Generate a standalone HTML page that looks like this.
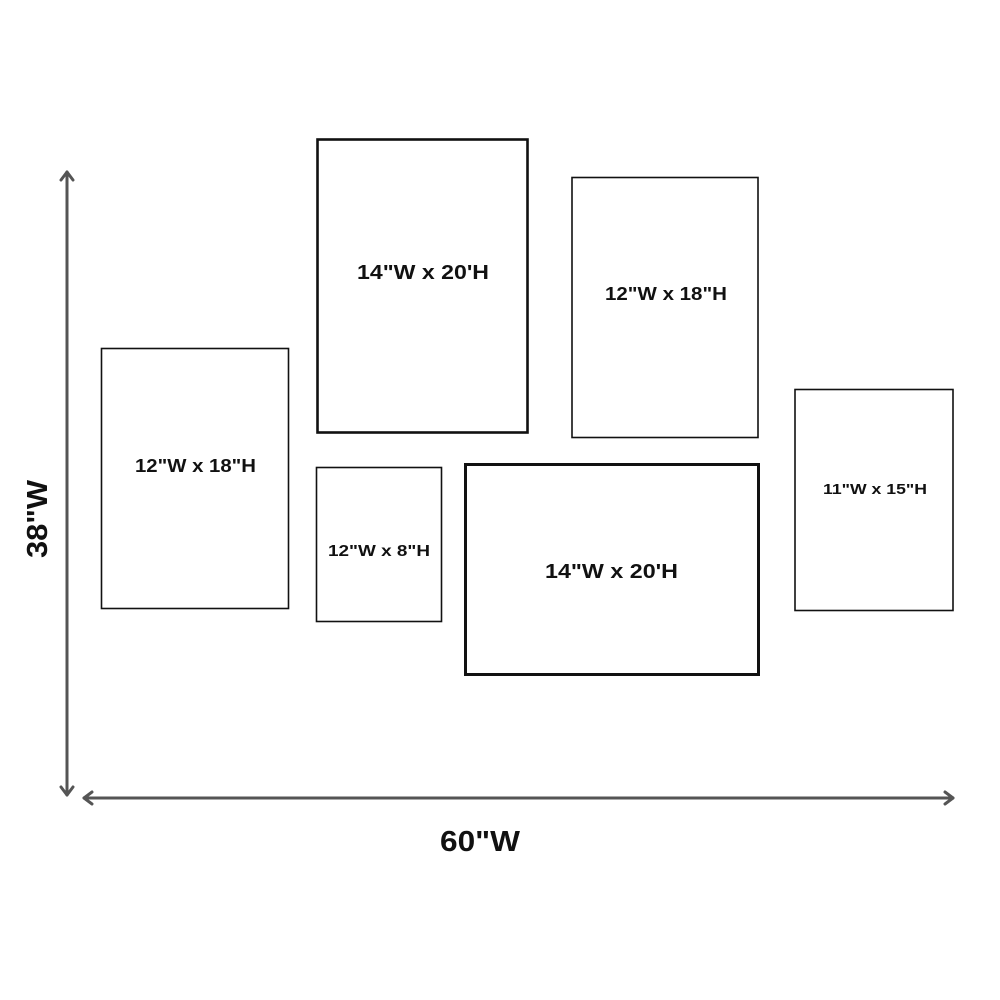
<!DOCTYPE html>
<html><head><meta charset="utf-8"><style>
html,body{margin:0;padding:0;background:#fff;}
svg{display:block;}
text{font-family:"Liberation Sans",sans-serif;font-weight:bold;fill:#111;}
</style></head><body>
<svg width="1000" height="1000" viewBox="0 0 1000 1000" xmlns="http://www.w3.org/2000/svg">
<rect x="0" y="0" width="1000" height="1000" fill="#fff"/>
<g fill="none" stroke="#111">
<rect x="101.5" y="348.5" width="187" height="260" stroke-width="1.6"/>
<rect x="317.5" y="139.5" width="210" height="293" stroke-width="2.6"/>
<rect x="316.5" y="467.5" width="125" height="154" stroke-width="1.6"/>
<rect x="572" y="177.5" width="186" height="260" stroke-width="1.6"/>
<rect x="465.5" y="464.5" width="293" height="210" stroke-width="3"/>
<rect x="795" y="389.5" width="158" height="221" stroke-width="1.6"/>
</g>
<g stroke="#555" stroke-width="3" fill="none" stroke-linecap="round" stroke-linejoin="round">
<line x1="67" y1="172" x2="67" y2="795"/>
<polyline points="61,180 67,172 73,180"/>
<polyline points="61,787 67,795 73,787"/>
<line x1="84" y1="798" x2="953" y2="798"/>
<polyline points="92,792 84,798 92,804"/>
<polyline points="945,792 953,798 945,804"/>
</g>
<g>
<text x="135" y="472" font-size="18" textLength="121" lengthAdjust="spacingAndGlyphs">12"W x 18"H</text>
<text x="357" y="279" font-size="20" textLength="132" lengthAdjust="spacingAndGlyphs">14"W x 20'H</text>
<text x="328" y="556" font-size="16" textLength="102" lengthAdjust="spacingAndGlyphs">12"W x 8"H</text>
<text x="605" y="300" font-size="18" textLength="122" lengthAdjust="spacingAndGlyphs">12"W x 18"H</text>
<text x="545" y="578" font-size="20" textLength="133" lengthAdjust="spacingAndGlyphs">14"W x 20'H</text>
<text x="823" y="494" font-size="15" textLength="104" lengthAdjust="spacingAndGlyphs">11"W x 15"H</text>
<text x="440" y="851" font-size="29" textLength="80" lengthAdjust="spacingAndGlyphs">60"W</text>
<text x="0" y="0" font-size="29" textLength="78" lengthAdjust="spacingAndGlyphs" transform="translate(47,558) rotate(-90)">38"W</text>
</g>
</svg>
</body></html>
